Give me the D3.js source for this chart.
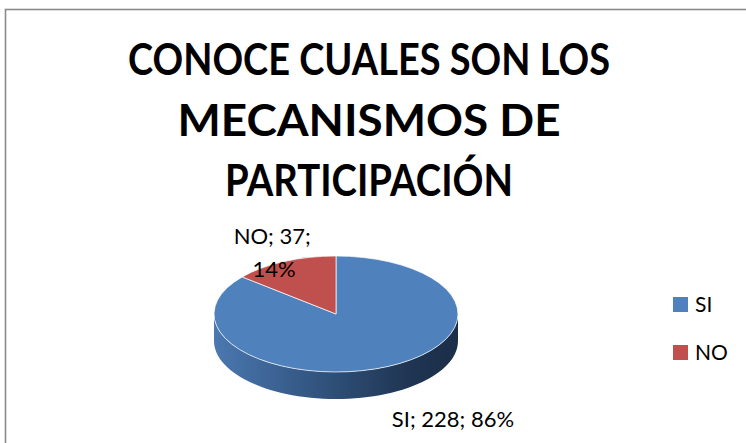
<!DOCTYPE html>
<html>
<head>
<meta charset="utf-8">
<script src="https://cdn.jsdelivr.net/npm/d3@7"></script>
<style>
  body { margin: 0; background: #fff; }
  svg { display: block; }
  text { font-family: Lato, "Open Sans", sans-serif; fill: #000; }
</style>
</head>
<body>
<div id="chart"></div>
<script>
// data
const categories = ["SI", "NO"];
const values = [228, 37];
const titleLines = ["CONOCE CUALES SON LOS", "MECANISMOS DE", "PARTICIPACIÓN"];
const colors = ["#4F81BD", "#C0504D"];

const W = 746, H = 443;
const cx = 336, cy = 314, rx = 122, ry = 58, depth = 27;
// title line widths (Calibri is narrower than the fallback fonts)
const titleWidths = [482, 383, 288];

const svg = d3.select("#chart").append("svg")
  .attr("width", W)
  .attr("height", H);

// chart area border (runs off right / bottom)
svg.append("rect")
  .attr("x", 5.5).attr("y", 9.5)
  .attr("width", W + 20).attr("height", H + 20)
  .attr("fill", "none")
  .attr("stroke", "#8a8a8a")
  .attr("stroke-width", 1.6);

// title
svg.append("g")
  .style("font-weight", "bold")
  .style("font-size", "44px")
  .selectAll("text")
  .data(titleLines)
  .enter()
  .append("text")
  .attr("x", (d, i) => 369 - titleWidths[i] / 2)
  .attr("y", (d, i) => 75 + i * 60.5)
  .attr("textLength", (d, i) => titleWidths[i])
  .attr("lengthAdjust", "spacingAndGlyphs")
  .text(d => d);

const defs = svg.append("defs");
const sideGrad = defs.append("linearGradient")
  .attr("id", "side")
  .attr("gradientUnits", "userSpaceOnUse")
  .attr("x1", cx - rx).attr("x2", cx + rx)
  .attr("y1", 0).attr("y2", 0);
sideGrad.selectAll("stop")
  .data([[0, "#4a78b0"], [0.45, "#30527c"], [0.8, "#1f3552"], [1, "#1b2e48"]])
  .enter().append("stop")
  .attr("offset", d => d[0])
  .attr("stop-color", d => d[1]);

const pie = d3.pie().sort(null);
const arcs = pie(values);
const total = d3.sum(values);
const pct = d3.format(".0%");

// point on ellipse; angle clockwise from top
function pt(a, dy) {
  return [cx + rx * Math.sin(a), cy - ry * Math.cos(a) + (dy || 0)];
}

// side wall: only the front half (PI/2 .. 3PI/2)
const line = d3.line();
arcs.forEach((d, i) => {
  const a0 = Math.max(d.startAngle, Math.PI / 2);
  const a1 = Math.min(d.endAngle, 3 * Math.PI / 2);
  if (a1 <= a0) return;
  const n = 60;
  const top = d3.range(n + 1).map(k => pt(a0 + (a1 - a0) * k / n));
  const bot = top.map(p => [p[0], p[1] + depth]).reverse();
  svg.append("path")
    .attr("d", line(top.concat(bot)) + "Z")
    .attr("fill", i === 0 ? "url(#side)" : d3.color(colors[i]).darker(1));
});

// top face
const arcGen = d3.arc().innerRadius(0).outerRadius(rx);
svg.append("g")
  .attr("transform", `translate(${cx},${cy}) scale(1,${ry / rx})`)
  .selectAll("path")
  .data(arcs)
  .enter()
  .append("path")
  .attr("d", arcGen)
  .attr("fill", (d, i) => colors[i])
  .attr("stroke", "#ffffff")
  .attr("stroke-opacity", 0.7)
  .attr("stroke-width", 1)
  .attr("vector-effect", "non-scaling-stroke");

// data labels
arcs.forEach((d, i) => {
  const mid = (d.startAngle + d.endAngle) / 2;
  const p = pt(mid);
  const txt = `${categories[i]}; ${values[i]}; ${pct(values[i] / total)}`;
  if (Math.cos(mid) < 0) {
    svg.append("text")
      .attr("x", p[0] + 4)
      .attr("y", p[1] + depth + 33)
      .style("font-size", "22px")
      .text(txt);
  } else {
    const t = svg.append("text")
      .attr("text-anchor", "middle")
      .style("font-size", "22px");
    t.append("tspan").attr("x", p[0] - 12).attr("y", p[1] - 17)
      .text(`${categories[i]}; ${values[i]};`);
    t.append("tspan").attr("x", p[0] - 10).attr("y", p[1] + 16)
      .text(pct(values[i] / total));
  }
});

// legend
const legend = svg.append("g")
  .selectAll("g")
  .data(categories)
  .enter()
  .append("g")
  .attr("transform", (d, i) => `translate(673,${297 + i * 48})`);
legend.append("rect")
  .attr("width", 15).attr("height", 15)
  .attr("fill", (d, i) => colors[i]);
legend.append("text")
  .attr("x", 22).attr("y", 15)
  .style("font-size", "21px")
  .text(d => d);
</script>
</body>
</html>
